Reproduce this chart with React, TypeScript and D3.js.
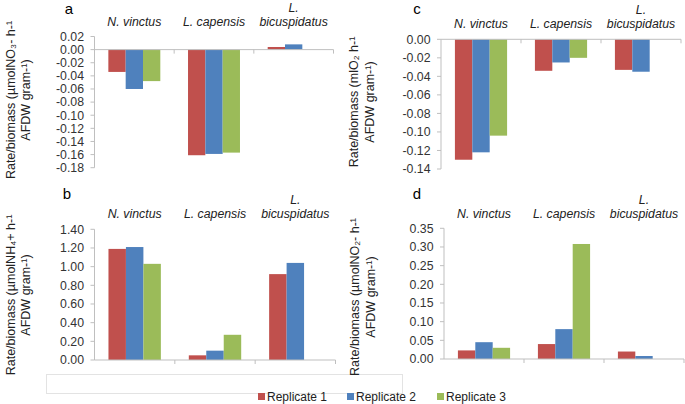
import * as d3 from 'd3';

const species = ['N. vinctus', 'L. capensis', 'L. bicuspidatus'];
const replicates = ['Replicate 1', 'Replicate 2', 'Replicate 3'];
const colors = ['#C0504D', '#4F81BD', '#9BBB59'];

// values per species, one entry per replicate (null = no bar)
const nitrate = [
    [-0.034, -0.060, -0.048],
    [-0.161, -0.159, -0.157],
    [0.004, 0.008, null],
];
const ammonium = [
    [1.19, 1.21, 1.03],
    [0.05, 0.10, 0.27],
    [0.92, 1.04, null],
];
const oxygen = [
    [-0.130, -0.122, -0.104],
    [-0.034, -0.025, -0.020],
    [-0.033, -0.035, null],
];
const nitrite = [
    [0.023, 0.045, 0.030],
    [0.040, 0.080, 0.308],
    [0.020, 0.008, null],
];

const font = "'Liberation Sans', Arial, sans-serif";

interface PanelProps {
    letter: string;
    letterPos: [number, number];
    values: (number | null)[][];
    domain: [number, number];
    tickCount: number;
    xRange: [number, number];
    yRange: [number, number];
    labelBase: number;
    title: [string, string];
    titleX: [number, number];
    titleY: number;
}

function Panel(p: PanelProps) {
    const x = d3.scaleBand().domain(species).range(p.xRange);
    const inner = d3.scaleBand().domain(replicates).range([0, x.bandwidth()]).paddingOuter(0.8);
    const y = d3.scaleLinear().domain(p.domain).range(p.yRange);
    const ticks = d3.ticks(p.domain[0], p.domain[1], p.tickCount);
    const [x0, x1] = p.xRange;
    const zero = y(0);

    return (
        <g style={{ fontFamily: font }}>
            <text x={p.letterPos[0]} y={p.letterPos[1]} fontSize={15} textAnchor="middle" fill="#000">{p.letter}</text>
            {p.title.map((t, i) => (
                <text key={i} transform={`translate(${p.titleX[i]},${p.titleY}) rotate(-90)`} fontSize={12.5} textAnchor="middle" fill="#222">{t}</text>
            ))}
            {/* y axis */}
            <line x1={x0} x2={x0} y1={y(p.domain[0])} y2={y(p.domain[1])} stroke="#BFBFBF" />
            {ticks.map((t, i) => (
                <g key={i}>
                    <line x1={x0 - 4} x2={x0} y1={y(t)} y2={y(t)} stroke="#BFBFBF" />
                    <text x={x0 - 10.5} y={y(t) + 4.3} fontSize={12.3} textAnchor="end" fill="#333">{t.toFixed(2)}</text>
                </g>
            ))}
            {/* bars */}
            {species.map((s, si) => p.values[si].map((v, ri) => {
                if (v === null) return null;
                const bx = (x(s) || 0) + (inner(replicates[ri]) || 0);
                return <rect key={`${si}-${ri}`} x={bx} width={inner.bandwidth()} y={Math.min(y(v), zero)} height={Math.abs(y(v) - zero)} fill={colors[ri]} />;
            }))}
            {/* category axis at zero */}
            <line x1={x0} x2={x1} y1={zero} y2={zero} stroke="#BFBFBF" />
            {species.map((s, i) => (
                <line key={i} x1={(x(s) || 0) + x.bandwidth()} x2={(x(s) || 0) + x.bandwidth()} y1={zero} y2={zero + 4} stroke="#BFBFBF" />
            ))}
            {species.map((s, i) => {
                const cx = (x(s) || 0) + x.bandwidth() / 2;
                const parts = s.split(' ');
                if (s === 'L. bicuspidatus') {
                    return (
                        <g key={i}>
                            <text x={cx} y={p.labelBase - 14} fontSize={12.3} fontStyle="italic" textAnchor="middle" fill="#222">{parts[0]}</text>
                            <text x={cx} y={p.labelBase} fontSize={12.3} fontStyle="italic" textAnchor="middle" fill="#222">{parts[1]}</text>
                        </g>
                    );
                }
                return <text key={i} x={cx} y={p.labelBase} fontSize={12.3} fontStyle="italic" textAnchor="middle" fill="#222">{s}</text>;
            })}
        </g>
    );
}

export default function App() {
    const legendX = [258, 347, 437];
    return (
        <svg width={685} height={404} style={{ position: 'absolute', left: 0, top: 0, background: '#fff' }}>
            <rect x={46.5} y={374.5} width={356} height={19} fill="none" stroke="#E3E3E3" />
            <Panel letter="a" letterPos={[69, 13.6]} values={nitrate} domain={[-0.18, 0.02]} tickCount={10}
                xRange={[94.5, 333.5]} yRange={[167.7, 36.5]} labelBase={26}
                title={['Rate/biomass (µmolNO₃- h-¹', 'AFDW gram-¹)']} titleX={[14.5, 29.5]} titleY={100} />
            <Panel letter="b" letterPos={[67, 199]} values={ammonium} domain={[0, 1.4]} tickCount={7}
                xRange={[94.5, 335.5]} yRange={[360, 229.3]} labelBase={218}
                title={['Rate/biomass (µmolNH₄+ h-¹', 'AFDW gram-¹)']} titleX={[14.5, 29.5]} titleY={295} />
            <Panel letter="c" letterPos={[417, 13.6]} values={oxygen} domain={[-0.14, 0]} tickCount={7}
                xRange={[441, 681]} yRange={[169, 39.3]} labelBase={27.5}
                title={['Rate/biomass (mlO₂ h-¹', 'AFDW gram-¹)']} titleX={[357.5, 373.5]} titleY={102} />
            <Panel letter="d" letterPos={[417, 199]} values={nitrite} domain={[0, 0.35]} tickCount={7}
                xRange={[444, 684]} yRange={[359, 228.3]} labelBase={218}
                title={['Rate/biomass (µmolNO₂- h-¹', 'AFDW gram-¹)']} titleX={[358.5, 374.5]} titleY={297} />
            {replicates.map((r, i) => (
                <g key={r} style={{ fontFamily: font }}>
                    <rect x={legendX[i]} y={393} width={7} height={7} fill={colors[i]} />
                    <text x={legendX[i] + 9} y={401} fontSize={12} fill="#222">{r}</text>
                </g>
            ))}
        </svg>
    );
}
